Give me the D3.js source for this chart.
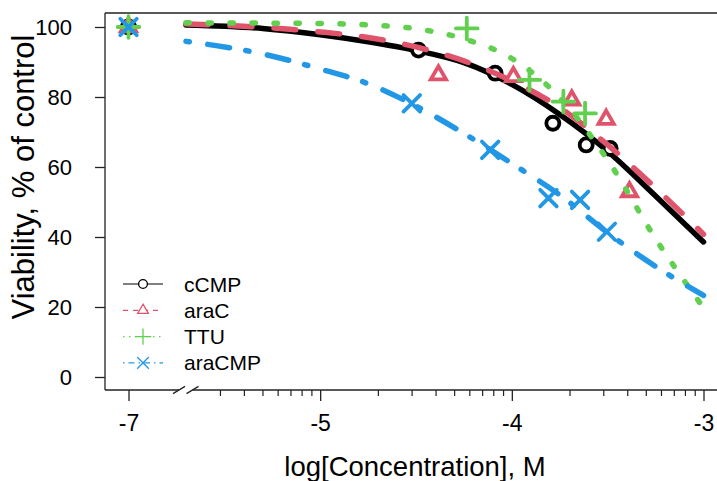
<!DOCTYPE html>
<html>
<head>
<meta charset="utf-8">
<script src="https://cdn.jsdelivr.net/npm/d3@7"></script>
<style>
  body { margin: 0; background: #fff; }
  text { font-family: "Liberation Sans", Arial, sans-serif; fill: #000; }
</style>
</head>
<body>
<div id="chart"></div>
<script>
const svgWidth = 717;
const svgHeight = 481;

// series
const seriesNames = ["cCMP", "araC", "TTU", "araCMP"];
const seriesColors = ["#000000", "#DF536B", "#61D04F", "#2297E6"];

// control (dose 0), drawn at the axis break, labelled -7
const controlConc = -7;
const controlViability = [100, 100, 100, 100];

// observed points: log10 concentration, viability %
const cCMPConc = [-4.487, -4.087, -3.786, -3.612, -3.487];
const cCMPViab = [93.4, 86.8, 72.5, 66.3, 65.3];
const araCConc = [-4.383, -3.992, -3.687, -3.508, -3.386];
const araCViab = [86.3, 85.8, 79.1, 73.6, 52.9];
const ttuConc = [-4.235, -3.908, -3.731, -3.618];
const ttuViab = [99.6, 84.9, 78.7, 75.3];
const araCMPConc = [-4.522, -4.113, -3.809, -3.644, -3.504];
const araCMPViab = [78.2, 64.9, 51.1, 50.6, 41.5];

// fitted curves
const curveConc = [-5.7, -5.3, -5.0, -4.75, -4.5, -4.25, -4.0, -3.75, -3.5, -3.25, -3.0];
const cCMPCurve = [100.6, 99.6, 97.8, 95.8, 93.3, 89.8, 83.6, 75.0, 64.5, 51.7, 38.6];
const araCCurve = [100.9, 99.9, 98.6, 97.0, 94.3, 90.3, 84.6, 77.0, 66.3, 54.0, 40.8];
const ttuCurve = [101.2, 101.1, 101.0, 100.6, 99.5, 96.6, 91.0, 79.8, 62.0, 39.5, 19.8];
const araCMPCurve = [95.9, 92.3, 88.0, 83.8, 77.4, 69.6, 61.0, 52.0, 41.2, 31.6, 23.3];

// axes
const xTickValues = [-7, -5, -4, -3];
const xMinorMantissa = [2, 3, 4, 5, 6, 7, 8, 9];
const xMinorDecades = [-6, -5, -4];
const yTickValues = [0, 20, 40, 60, 80, 100];
const breakAt = -5.7;

const xLabel = "log[Concentration], M";
const yLabel = "Viability, % of control";

const plotLeft = 105, plotRight = 722, plotTop = 13, plotBottom = 390;
const lwd = 5.5;

let svg = d3.select("#chart").append("svg")
  .attr("width", svgWidth)
  .attr("height", svgHeight);

// -7 sits where -6 would be, the rest is a plain log10 axis
let decade = (703.5 - 128.5) / 3;
let x = d3.scaleLinear()
  .domain([-7, breakAt, -3])
  .range([128.5, 128.5 + (breakAt + 6) * decade, 703.5]);
let y = d3.scaleLinear().domain([0, 100]).range([377, 27]);
let breakX = x(breakAt);

// Box
svg.append("line").attr("x1", plotLeft).attr("x2", plotRight)
  .attr("y1", plotTop).attr("y2", plotTop)
  .attr("stroke", "#222").attr("stroke-width", 1.3);
svg.append("line").attr("x1", plotLeft).attr("x2", plotLeft)
  .attr("y1", plotTop).attr("y2", plotBottom)
  .attr("stroke", "#222").attr("stroke-width", 1.3);
svg.append("line").attr("x1", plotLeft).attr("x2", breakX - 7)
  .attr("y1", plotBottom).attr("y2", plotBottom)
  .attr("stroke", "#222").attr("stroke-width", 1.3);
svg.append("line").attr("x1", breakX + 6.5).attr("x2", plotRight)
  .attr("y1", plotBottom).attr("y2", plotBottom)
  .attr("stroke", "#222").attr("stroke-width", 1.3);
// break slashes
[-7, 6.5].forEach(function (dx) {
  svg.append("line")
    .attr("x1", breakX + dx - 6).attr("y1", plotBottom + 3.6)
    .attr("x2", breakX + dx + 6).attr("y2", plotBottom - 3.6)
    .attr("stroke", "#222").attr("stroke-width", 1.3);
});

// X axis
let xMinor = [];
xMinorDecades.forEach(dec => xMinorMantissa.forEach(m => {
  let v = dec + Math.log10(m);
  if (v > breakAt + 0.05) xMinor.push(v);
}));

let xAxis = svg.append("g")
  .attr("transform", `translate(0,${plotBottom})`)
  .call(d3.axisBottom(x).tickValues(xTickValues).tickSize(11).tickPadding(14)
    .tickFormat(d => String(d)));
xAxis.select(".domain").remove();
xAxis.selectAll("line").attr("stroke", "#222").attr("stroke-width", 1.3);
xAxis.selectAll("text").style("font-size", "23px");

let xMinorAxis = svg.append("g")
  .attr("transform", `translate(0,${plotBottom})`)
  .call(d3.axisBottom(x).tickValues(xMinor).tickSize(6).tickFormat(""));
xMinorAxis.select(".domain").remove();
xMinorAxis.selectAll("line").attr("stroke", "#222").attr("stroke-width", 1.2);

// Y axis
let yAxis = svg.append("g")
  .attr("transform", `translate(${plotLeft},0)`)
  .call(d3.axisLeft(y).tickValues(yTickValues).tickSize(10).tickPadding(23)
    .tickFormat(d => String(d)));
yAxis.select(".domain").remove();
yAxis.selectAll("line").attr("stroke", "#222").attr("stroke-width", 1.3);
yAxis.selectAll("text").style("font-size", "22px");

// Axis titles
svg.append("text")
  .attr("x", 415).attr("y", 476)
  .attr("text-anchor", "middle")
  .style("font-size", "27.5px")
  .text(xLabel);
svg.append("text")
  .attr("transform", "translate(34,177) rotate(-90)")
  .attr("text-anchor", "middle")
  .style("font-size", "31px")
  .text(yLabel);

// Series
let dashes = [null, [4 * lwd, 4 * lwd], [lwd * 0.6, 3.4 * lwd], [lwd * 0.6, 3.4 * lwd, 4 * lwd, 3 * lwd]];
let legendDashes = [null, [5, 5], [1.5, 4.5], [1.5, 4, 6, 4]];
let symbolTypes = [d3.symbolCircle, d3.symbolTriangle2, d3.symbolPlus, d3.symbolTimes];
let symbolSizes = [133, 165, 155, 180];
let legendSymbolSizes = [60, 80, 90, 90];

let pointConc = [cCMPConc, araCConc, ttuConc, araCMPConc];
let pointViab = [cCMPViab, araCViab, ttuViab, araCMPViab];
let curves = [cCMPCurve, araCCurve, ttuCurve, araCMPCurve];

let line = d3.line()
  .x(d => x(d[0]))
  .y(d => y(d[1]))
  .curve(d3.curveMonotoneX);

seriesNames.forEach(function (name, i) {
  let curveData = curveConc.map((c, j) => [c, curves[i][j]]);
  svg.append("path")
    .datum(curveData)
    .attr("d", line)
    .attr("fill", "none")
    .attr("stroke", seriesColors[i])
    .attr("stroke-width", lwd)
    .attr("stroke-linecap", "round")
    .attr("stroke-dasharray", dashes[i] ? dashes[i].join(",") : null);

  let pts = [[controlConc, controlViability[i]]]
    .concat(pointConc[i].map((c, j) => [c, pointViab[i][j]]));
  svg.append("g").selectAll("path")
    .data(pts)
    .enter()
    .append("path")
    .attr("transform", d => `translate(${x(d[0])},${y(d[1])})`)
    .attr("d", d3.symbol().type(symbolTypes[i]).size(symbolSizes[i]))
    .attr("fill", i < 2 ? "#fff" : "none")
    .attr("stroke", seriesColors[i])
    .attr("stroke-width", 3.8)
    .attr("stroke-linecap", "round");
});

// Legend
let legend = svg.append("g");
seriesNames.forEach(function (name, i) {
  let ly = 284 + i * 26.3;
  legend.append("line")
    .attr("x1", 123).attr("x2", 163)
    .attr("y1", ly).attr("y2", ly)
    .attr("stroke", seriesColors[i])
    .attr("stroke-width", 1.2)
    .attr("stroke-dasharray", legendDashes[i] ? legendDashes[i].join(",") : null);
  legend.append("path")
    .attr("transform", `translate(143,${ly})`)
    .attr("d", d3.symbol().type(symbolTypes[i]).size(legendSymbolSizes[i]))
    .attr("fill", "#fff")
    .attr("stroke", seriesColors[i])
    .attr("stroke-width", 1.3);
  legend.append("text")
    .attr("x", 184).attr("y", ly)
    .attr("dy", "0.36em")
    .style("font-size", "21px")
    .text(name);
});
</script>
</body>
</html>
